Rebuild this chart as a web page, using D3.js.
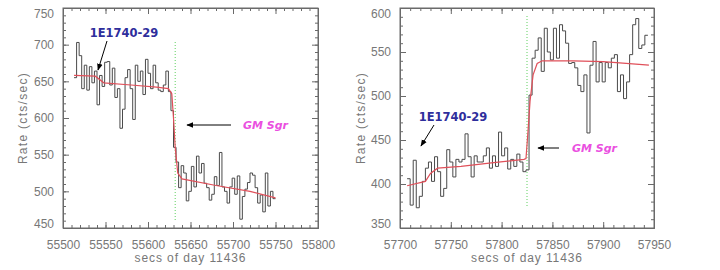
<!DOCTYPE html>
<html>
<head>
<meta charset="utf-8">
<script src="https://cdn.jsdelivr.net/npm/d3@7"></script>
<style>
  body { margin: 0; background: #fff; }
  svg { display: block; font-family: "Liberation Sans", Arial, sans-serif; }
  .axis path, .axis line { stroke: #6a6a6a; }
  .axis text { fill: #777; font-size: 12px; }
</style>
</head>
<body>
<svg width="720" height="270"></svg>
<script>
// data (3 s bins)
const binWidth = 3

const leftStart = 55513
const leftRates = [
  655, 703, 685, 640, 672, 638, 670, 648, 664, 618, 658, 643, 676, 677, 645, 668, 628, 640, 586, 612,
  655, 666, 640, 598, 672, 650, 664, 632, 680, 661, 640, 672, 648, 638, 636, 645, 664, 636, 610, 560,
  540, 505, 535, 525, 487, 500, 534, 506, 548, 525, 538, 511, 505, 488, 496, 520, 508, 553, 506, 500,
  484, 506, 518, 496, 521, 462, 493, 503, 512, 525, 522, 505, 484, 495, 472, 525, 480, 500, 490
]
const leftFitTimes = [55513, 55538, 55548, 55580, 55610, 55624, 55628, 55630, 55632, 55635, 55640, 55680, 55720, 55750]
const leftFitRates = [658, 657, 648, 645, 642, 640, 633, 600, 560, 525, 517, 508, 500, 491]

const rightStart = 57707
const rightRates = [
  406, 376, 427, 373, 386, 403, 418, 425, 403, 431, 414, 386, 395, 439, 425, 408, 428, 425, 428, 457,
  431, 408, 432, 425, 425, 432, 441, 418, 432, 420, 459, 432, 441, 417, 428, 420, 434, 425, 414, 416,
  501, 543, 552, 566, 528, 577, 550, 541, 577, 543, 581, 574, 560, 537, 538, 532, 512, 505, 524, 458,
  535, 562, 516, 538, 516, 538, 532, 543, 547, 505, 524, 497, 516, 547, 581, 588, 554, 558, 569
]
const rightFitTimes = [57707, 57725, 57730, 57737, 57760, 57790, 57822, 57824, 57826, 57828, 57831, 57835, 57840, 57870, 57900, 57945]
const rightFitRates = [398, 403, 412, 418, 420, 424, 428, 429, 460, 494, 524, 537, 540, 540, 539, 535]

const xTicksLeft = [55500, 55550, 55600, 55650, 55700, 55750, 55800]
const yTicksLeft = [450, 500, 550, 600, 650, 700, 750]
const xTicksRight = [57700, 57750, 57800, 57850, 57900, 57950]
const yTicksRight = [350, 400, 450, 500, 550, 600]

const svg = d3.select("svg")

function drawPanel(p) {
    const g = svg.append("g").attr("transform", "translate(" + p.left + "," + p.top + ")")
    const w = p.width, h = p.height

    const x = d3.scaleLinear().domain(p.xDomain).range([0, w])
    const y = d3.scaleLinear().domain(p.yDomain).range([h, 0])

    const xMinor = d3.range(p.xDomain[0], p.xDomain[1] + 0.1, 10)
    const yMinor = d3.range(p.yDomain[0], p.yDomain[1] + 0.1, 10)

    // minor ticks on all four sides
    g.append("g").attr("class", "axis").attr("transform", "translate(0," + h + ")")
        .call(d3.axisBottom(x).tickValues(xMinor).tickFormat("").tickSize(-3).tickSizeOuter(0))
    g.append("g").attr("class", "axis")
        .call(d3.axisTop(x).tickValues(xMinor).tickFormat("").tickSize(-3).tickSizeOuter(0))
    g.append("g").attr("class", "axis")
        .call(d3.axisLeft(y).tickValues(yMinor).tickFormat("").tickSize(-3).tickSizeOuter(0))
    g.append("g").attr("class", "axis").attr("transform", "translate(" + w + ",0)")
        .call(d3.axisRight(y).tickValues(yMinor).tickFormat("").tickSize(-3).tickSizeOuter(0))

    // major ticks with labels
    g.append("g").attr("class", "axis").attr("transform", "translate(0," + h + ")")
        .call(d3.axisBottom(x).tickValues(p.xTicks).tickFormat(d3.format("d")).tickSize(-6).tickSizeOuter(0).tickPadding(12))
    const ya = g.append("g").attr("class", "axis")
        .call(d3.axisLeft(y).tickValues(p.yTicks).tickFormat(d3.format("d")).tickSize(-6).tickSizeOuter(0).tickPadding(9))
    g.append("g").attr("class", "axis")
        .call(d3.axisTop(x).tickValues(p.xTicks).tickFormat("").tickSize(-6).tickSizeOuter(0))
    g.append("g").attr("class", "axis").attr("transform", "translate(" + w + ",0)")
        .call(d3.axisRight(y).tickValues(p.yTicks).tickFormat("").tickSize(-6).tickSizeOuter(0))

    // end labels sit a little inside the box
    const last = p.yTicks.length - 1
    ya.selectAll(".tick text").attr("dy", (d, i) => i === 0 ? "-0.05em" : i === last ? "0.75em" : "0.32em")

    g.append("rect").attr("width", w).attr("height", h)
        .attr("fill", "none").attr("stroke", "#6a6a6a")

    // axis titles
    g.append("text").attr("x", w / 2).attr("y", h + 34)
        .attr("text-anchor", "middle").attr("fill", "#777").style("font-size", "12px")
        .style("letter-spacing", "0.9px")
        .text("secs of day 11436")
    g.append("text").attr("transform", "translate(" + p.yTitleX + "," + (h / 2) + ") rotate(-90)")
        .attr("text-anchor", "middle").attr("fill", "#777").style("font-size", "12px")
        .style("letter-spacing", "1.3px")
        .text("Rate (cts/sec)")

    // eclipse ingress/egress marker
    g.append("line")
        .attr("x1", x(p.markT)).attr("x2", x(p.markT))
        .attr("y1", p.markY[0] - p.top).attr("y2", p.markY[1] - p.top)
        .attr("stroke", "#5fd05f").attr("stroke-width", 1).attr("stroke-dasharray", "1,2")

    // binned light curve
    const pts = p.rates.map((r, i) => [p.start + i * binWidth, r])
    pts.push([p.start + p.rates.length * binWidth, p.rates[p.rates.length - 1]])
    const step = d3.line().x(d => x(d[0])).y(d => y(d[1])).curve(d3.curveStepAfter)
    g.append("path").datum(pts).attr("d", step)
        .attr("fill", "none").attr("stroke", "#4a4a4a").attr("stroke-width", 1)

    // model fit
    const fit = d3.line().x(d => x(d[0])).y(d => y(d[1]))
    g.append("path").datum(p.fitTimes.map((t, i) => [t, p.fitRates[i]])).attr("d", fit)
        .attr("fill", "none").attr("stroke", "#e0505a").attr("stroke-width", 1.2)

    // labels and arrows (page coordinates)
    const a = p.notes
    svg.append("text").attr("x", a.srcX).attr("y", a.srcY).attr("text-anchor", "middle")
        .attr("fill", "#2e2e9c").style("font-size", "11.5px").style("font-weight", "bold")
        .style("font-family", "'DejaVu Sans', sans-serif").text("1E1740-29")
    arrow(a.srcArrow)
    svg.append("text").attr("x", a.gmX).attr("y", a.gmY).attr("text-anchor", "start")
        .attr("fill", "#ea4fe0").style("font-size", "11px").style("font-weight", "bold").style("font-style", "italic")
        .style("font-family", "'DejaVu Sans', sans-serif").text("GM Sgr")
    arrow(a.gmArrow)
}

function arrow(c) {
    svg.append("line").attr("x1", c[0]).attr("y1", c[1]).attr("x2", c[2]).attr("y2", c[3])
        .attr("stroke", "#000").attr("stroke-width", 1).attr("marker-end", "url(#head)")
}

svg.append("defs").append("marker").attr("id", "head")
    .attr("viewBox", "0 0 10 10").attr("refX", 9).attr("refY", 5)
    .attr("markerWidth", 7).attr("markerHeight", 7).attr("orient", "auto")
    .append("path").attr("d", "M0,1L10,5L0,9z").attr("fill", "#000")

drawPanel({
    left: 63, top: 8, width: 255, height: 220,
    xDomain: [55500, 55800], yDomain: [450, 750],
    xTicks: xTicksLeft, yTicks: yTicksLeft, yTitleX: -36,
    start: leftStart, rates: leftRates, fitTimes: leftFitTimes, fitRates: leftFitRates,
    markT: 55632, markY: [42, 221],
    notes: { srcX: 124, srcY: 37, srcArrow: [107, 41, 98, 70], gmX: 243, gmY: 129, gmArrow: [231, 125, 187, 125] }
})

drawPanel({
    left: 400, top: 8, width: 254, height: 220,
    xDomain: [57700, 57950], yDomain: [350, 600],
    xTicks: xTicksRight, yTicks: yTicksRight, yTitleX: -35,
    start: rightStart, rates: rightRates, fitTimes: rightFitTimes, fitRates: rightFitRates,
    markT: 57825, markY: [16, 208],
    notes: { srcX: 453, srcY: 121, srcArrow: [434, 125, 421, 146], gmX: 572, gmY: 152, gmArrow: [559, 148, 538, 148] }
})
</script>
</body>
</html>
